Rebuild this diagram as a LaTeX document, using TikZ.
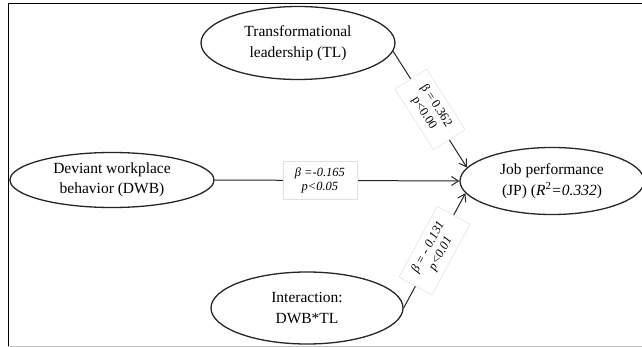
\documentclass[tikz,border=0pt]{standalone}
\usepackage{fontspec}
\setmainfont{Liberation Serif}
\usetikzlibrary{shapes.geometric,arrows.meta}
\begin{document}
\begin{tikzpicture}[x=1pt,y=-1pt,
  ell/.style={ellipse,draw=black!85,line width=1.3pt,inner sep=0pt,align=center,font=\fontsize{15.5}{20.5}\selectfont},
  lab/.style={fill=white,draw=black!12,line width=0.5pt,inner xsep=12pt,inner ysep=6pt,align=center,font=\fontsize{12.5}{14}\selectfont},
  labit/.style={lab,font=\fontsize{12.5}{14}\selectfont\itshape},
  arr/.style={draw=black!85,line width=1pt,-{Straight Barb[length=7pt,width=9pt]}}]
\useasboundingbox (0,0) rectangle (642,347);
\clip (0,0) rectangle (642,347);
\draw[line width=1pt] (8,346) -- (8,4) -- (642,4);
\draw[black!25,line width=0.8pt] (8,346) -- (642,346);

\node[ell,minimum width=194pt,minimum height=73pt] (TL) at (298,43) {Transformational\\leadership (TL)};
\node[ell,minimum width=204pt,minimum height=55pt] (DWB) at (112,180) {Deviant workplace\\behavior (DWB)};
\node[ell,minimum width=184pt,minimum height=67pt] (JP) at (552,181) {Job performance\\(JP) (\textit{R}\textsuperscript{2}\textit{=0.332})};
\node[ell,minimum width=192pt,minimum height=72pt] (INT) at (307,308) {Interaction:\\DWB*TL};

\draw[arr] (TL.-5) -- node[lab,sloped] (l1) {β = 0.362\\p<0.00} (JP.171);
\draw[arr] (DWB.east) -- node[labit,pos=0.43] (l2) {β =-0.165\\p<0.05} (JP.west);
\draw[arr] (INT.east) -- node[labit,sloped] (l3) {β = - 0.131\\p<0.01} (JP.188);
\end{tikzpicture}
\end{document}
